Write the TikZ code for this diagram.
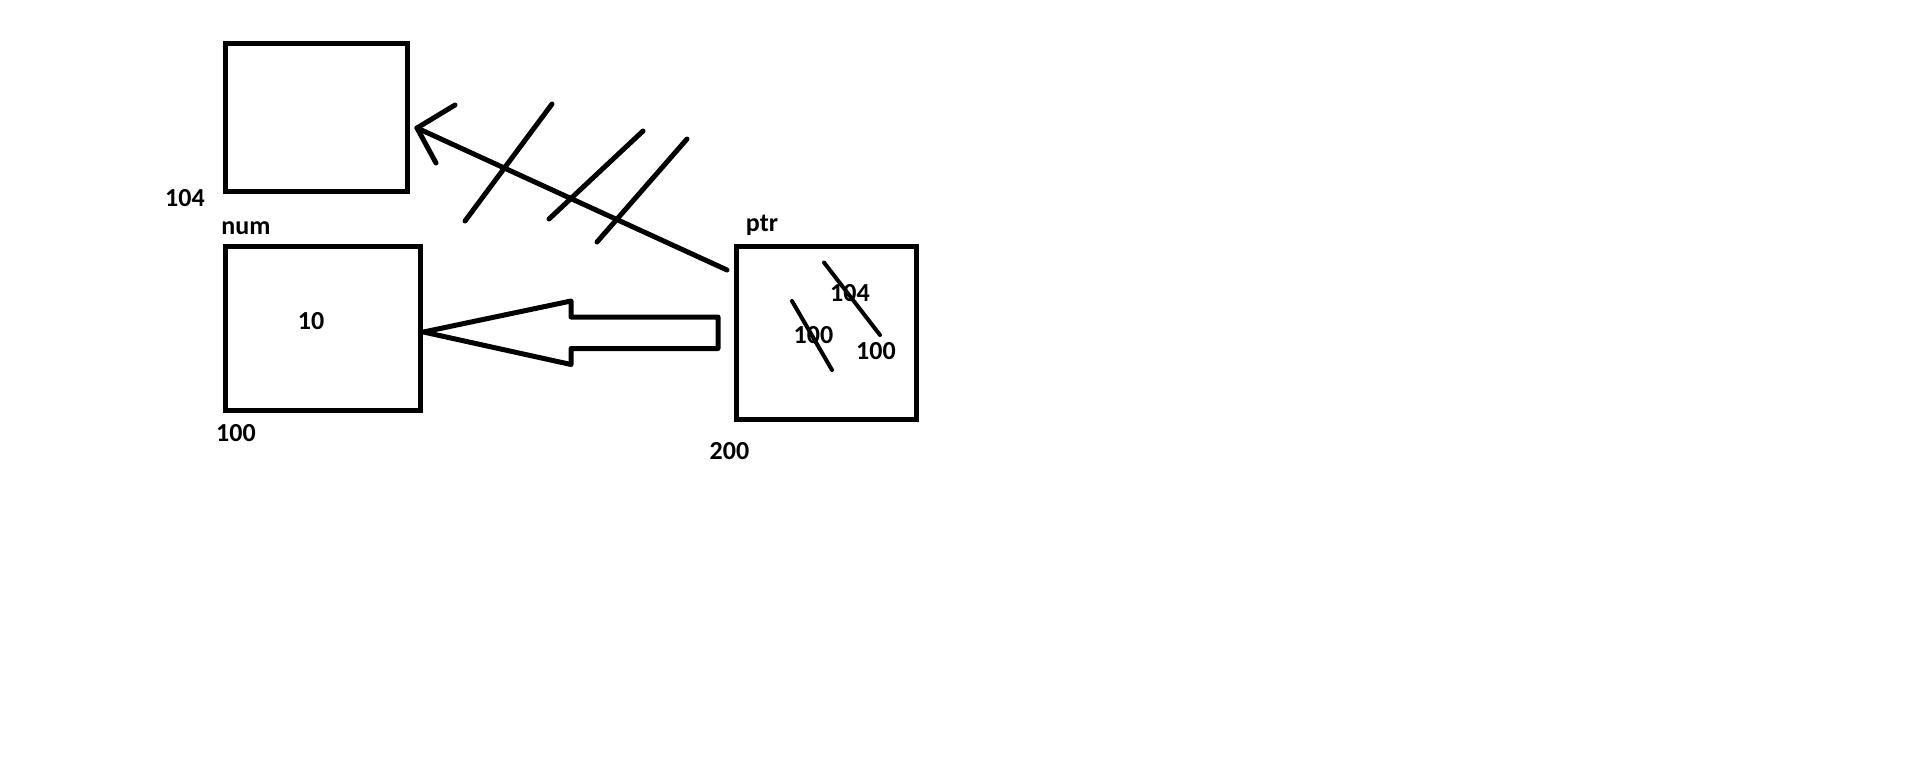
\documentclass[tikz,border=0pt]{standalone}
\usepackage{fontspec}
\setmainfont{Carlito}
\begin{document}
\begin{tikzpicture}[x=1pt,y=-1pt,line join=round,line cap=round]
\tikzset{
  cell/.style={draw,line width=5pt,inner sep=0pt,line cap=butt,line join=miter},
  lbl/.style={font=\fontsize{26}{30}\selectfont\bfseries,inner sep=0pt},
  pen/.style={line width=5pt},
  thinpen/.style={line width=4pt}
}
\useasboundingbox (0,0) rectangle (1910,772);
% boxes
\node[cell,minimum width=182pt,minimum height=148pt] (top) at (316,117) {};
\node[cell,minimum width=195pt,minimum height=164pt] (num) at (322.5,328) {};
\node[cell,minimum width=180pt,minimum height=173pt] (ptr) at (826,332.5) {};
% labels
\node[lbl] (l104) at (185,198) {104};
\node[lbl] (lnum) at (246,228) {num};
\node[lbl] (l10) at (311,321.5) {10};
\node[lbl] (l100) at (236,433.5) {100};
\node[lbl] (lptr) at (762,225) {ptr};
\node[lbl] (l200) at (729.5,451) {200};
\node[lbl] (v104) at (850,293.5) {104};
\node[lbl] (v100a) at (813.5,335) {100};
\node[lbl] (v100b) at (876,351) {100};
% strike-through lines in ptr
\coordinate (sa1) at (824,262.5);
\coordinate (sa2) at (880,335);
\coordinate (sb1) at (792,301);
\coordinate (sb2) at (832,370);
\draw[thinpen] (sa1) -- (sa2);
\draw[thinpen] (sb1) -- (sb2);
% arrow from ptr to top box
\coordinate (tail) at (727,270);
\coordinate (tip) at (417,128);
\coordinate (h1) at (455,105);
\coordinate (h2) at (436,163);
\draw[pen] (tail) -- (tip);
\draw[pen] (h1) -- (tip) -- (h2);
% hatch lines
\draw[pen] (552,104) -- (465,221);
\draw[pen] (643,131) -- (549,219);
\draw[pen] (687,139) -- (597,242);
% hollow arrow from ptr to num
\coordinate (htip) at (423.5,332);
\draw[pen,line join=round] (htip) -- (571,301) -- (571,317) -- (718,317) -- (718,348.5) -- (571,348.5) -- (571,364.5) -- cycle;
\end{tikzpicture}
\end{document}
